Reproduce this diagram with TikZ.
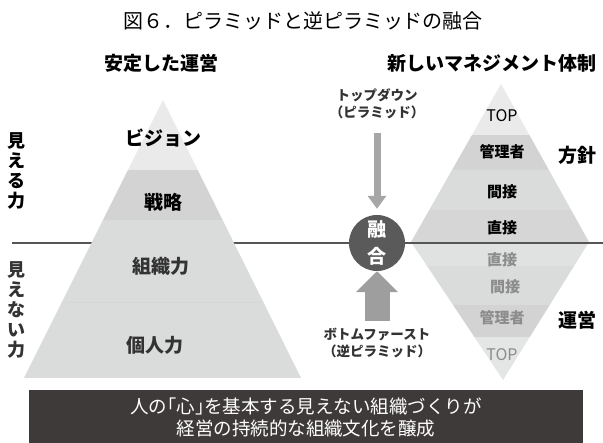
\documentclass[tikz,border=0pt]{standalone}
\usepackage{fontspec}
\setmainfont{Noto Sans CJK JP}
\usepackage{xcolor}
\usepackage{tikz}
\usetikzlibrary{arrows.meta,positioning}

\definecolor{rulegray}{HTML}{555555}
\definecolor{fusegray}{HTML}{5A5A5A}
\definecolor{boxdark}{HTML}{3E3A39}
\definecolor{arrowgray}{HTML}{A6A6A6}
\definecolor{softtext}{HTML}{8C8C8C}
\definecolor{midtext}{HTML}{333333}
\definecolor{bandlight}{HTML}{E9EAE9}
\definecolor{banddark}{HTML}{D3D3D3}
\definecolor{bandmid}{HTML}{DADBDB}

\newcommand{\fsz}[1]{\fontsize{#1}{#1}\selectfont}

\begin{document}
\begin{tikzpicture}[x=1pt, y=-1pt, >=Triangle, font=\bfseries]
      \tikzstyle{every node}=[inner sep=0pt, align=center]
      \tikzstyle{head}=[font=\fsz{19}\bfseries]
      \tikzstyle{pyrlabel}=[font=\fsz{19}\bfseries]
      \tikzstyle{dialabel}=[font=\fsz{15}\bfseries]
      \tikzstyle{toplabel}=[font=\fsz{16}]
      \tikzstyle{sidelabel}=[font=\fontsize{18}{20}\selectfont\bfseries]
      \tikzstyle{flowlabel}=[font=\fontsize{13.5}{17}\selectfont\bfseries, text=midtext]

      \useasboundingbox (0,0) rectangle (603,443);

      % titles
      \node[font=\fsz{20}] (title) at (303,21) {図６．ピラミッドと逆ピラミッドの融合};
      \node[head] (stable) at (161,63) {安定した運営};
      \node[head] (newmgmt) at (492,63) {新しいマネジメント体制};

      % dividing line
      \coordinate (lineL) at (12,243);
      \coordinate (lineR) at (603,243);
      \draw[rulegray, line width=1.6pt] (lineL) -- (lineR);

      % pyramid
      \begin{scope}
        \clip (163,100) -- (301,378) -- (24,378) -- cycle;
        \fill[bandlight] (0,90) rectangle (320,170);
        \fill[banddark] (0,170) rectangle (320,220);
        \fill[bandmid] (0,220) rectangle (320,302);
        \fill[bandmid!98!black] (0,302) rectangle (320,303);
        \fill[bandmid] (0,303) rectangle (320,380);
      \end{scope}
      \node[pyrlabel] (vision) at (163,138) {ビジョン};
      \node[pyrlabel] (strategy) at (163,202) {戦略};
      \node[pyrlabel, text=midtext] (orgpower) at (161,266) {組織力};
      \node[pyrlabel, text=midtext] (personal) at (155,345) {個人力};

      \node[sidelabel] (seen) at (17,171) {見\\え\\る\\力};
      \node[sidelabel, text=midtext] (unseen) at (17,310) {見\\え\\な\\い\\力};

      % diamond
      \begin{scope}
        \clip (501,84) -- (589,242) -- (503,380) -- (411,242) -- cycle;
        \fill[bandlight] (400,80) rectangle (600,135);
        \fill[banddark] (400,135) rectangle (600,170);
        \fill[bandmid] (400,170) rectangle (600,210);
        \fill[banddark!60!bandmid] (400,210) rectangle (600,242);
        \fill[bandmid!60!bandlight] (400,244) rectangle (600,266);
        \fill[bandmid] (400,266) rectangle (600,305);
        \fill[banddark] (400,305) rectangle (600,337);
        \fill[bandlight!70!bandmid] (400,337) rectangle (600,385);
      \end{scope}
      \node[toplabel] (topA) at (502,116) {TOP};
      \node[dialabel] (mgrA) at (502,152) {管理者};
      \node[dialabel] (indA) at (502,192) {間接};
      \node[dialabel] (dirA) at (502,228) {直接};
      \node[dialabel, text=softtext] (dirB) at (502,260) {直接};
      \node[dialabel, text=softtext] (indB) at (505,287) {間接};
      \node[dialabel, text=softtext] (mgrB) at (502,318) {管理者};
      \node[toplabel, text=softtext] (topB) at (502,355) {TOP};

      \node[head] (policy) at (577,155) {方針};
      \node[head] (operate) at (577,320) {運営};

      % fusion
      \node[circle, fill=fusegray, minimum size=56pt] (fuse) at (377,243) {};
      \node[font=\fsz{19}\bfseries, text=white] (fuseA) at (377,229) {融};
      \node[font=\fsz{19}\bfseries, text=white] (fuseB) at (377,256) {合};

      \node[flowlabel] (topdown) at (377,104) {トップダウン\\（ピラミッド）};
      \node[flowlabel] (bottomup) at (377,343) {ボトムファースト\\（逆ピラミッド）};

      \draw[->, arrowgray, line width=7pt, shorten <=14pt, shorten >=6pt,
            >={Triangle[width=18pt, length=13pt]}] (topdown) -- (fuse);
      \draw[->, arrowgray!95!black, line width=25pt, shorten <=7pt,
            >={Triangle[width=41pt, length=21pt]}] (bottomup) -- (fuse);

      % message box
      \node[fill=boxdark, minimum width=554pt, minimum height=54pt, text=white,
            font=\fontsize{18.5}{22}\selectfont] (message) at (306,417)
            {人の｢心｣を基本する見えない組織づくりが\\経営の持続的な組織文化を醸成};

      \end{tikzpicture}
\end{document}
